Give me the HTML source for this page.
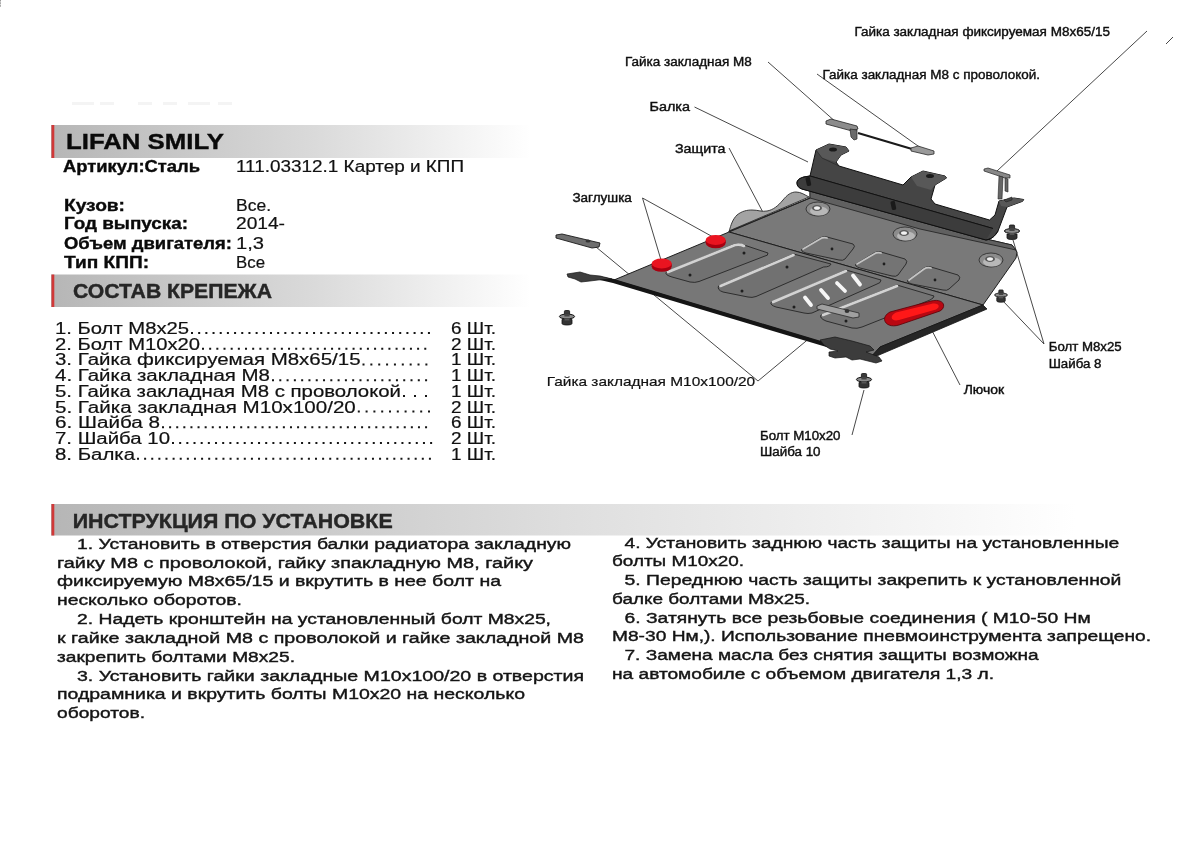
<!DOCTYPE html>
<html><head><meta charset="utf-8">
<style>
html,body{margin:0;padding:0;background:#fff;width:1200px;height:848px;overflow:hidden}
svg{display:block;will-change:transform}
text{font-family:"Liberation Sans",sans-serif;fill:#111}
.b{font-weight:bold;fill:#0a0a0a;stroke:#0a0a0a;stroke-width:0.35px}
.h{font-weight:bold;fill:#262626;stroke:#262626;stroke-width:0.4px}
.lst{fill:#111;stroke:#111;stroke-width:0.2px}
.lbv{fill:#111;stroke:#111;stroke-width:0.2px}
.ins{fill:#141414;stroke:#141414;stroke-width:0.4px}
.lbl{fill:#0e0e0e;stroke:#0e0e0e;stroke-width:0.4px}
</style></head>
<body>
<svg width="1200" height="848" viewBox="0 0 1200 848">
<defs>
<linearGradient id="g1" x1="0" x2="1" y1="0" y2="0">
<stop offset="0" stop-color="#b6b6b6"/>
<stop offset="0.55" stop-color="#dadada"/>
<stop offset="1" stop-color="#ffffff"/>
</linearGradient>
<linearGradient id="g3" x1="0" x2="1" y1="0" y2="0">
<stop offset="0" stop-color="#b6b6b6"/>
<stop offset="0.5" stop-color="#dedede"/>
<stop offset="1" stop-color="#ffffff"/>
</linearGradient>
</defs>
<rect width="1200" height="848" fill="#fff"/>
<rect x="0" y="0" width="1" height="1.5" fill="#999"/><rect x="0" y="2.2" width="1" height="1.8" fill="#aaa"/><rect x="0" y="4.6" width="1" height="2.2" fill="#aaa"/>
<g fill="#f4f4f4"><rect x="72" y="102" width="22" height="3"/><rect x="100" y="102" width="14" height="3"/><rect x="138" y="102" width="14" height="3"/><rect x="163" y="102" width="14" height="3"/><rect x="188" y="102" width="22" height="3"/><rect x="218" y="102" width="14" height="3"/></g>
<rect x="51" y="125" width="480" height="33" fill="url(#g1)"/>
<rect x="51.5" y="125" width="2.8" height="33" fill="#d03838"/>
<rect x="51" y="274.5" width="480" height="32.5" fill="url(#g1)"/>
<rect x="51.5" y="274.5" width="2.8" height="32.5" fill="#d03838"/>
<rect x="51" y="504" width="1025" height="31.5" fill="url(#g3)"/>
<rect x="51.5" y="504" width="2.8" height="31.5" fill="#d03838"/>
<text class="b" x="66" y="148.6" font-size="21.8" textLength="158" lengthAdjust="spacingAndGlyphs">LIFAN SMILY</text>
<text class="b" x="63" y="171.7" font-size="16" textLength="137" lengthAdjust="spacingAndGlyphs">Артикул:Сталь</text>
<text class="b" x="64" y="210.7" font-size="16" textLength="61" lengthAdjust="spacingAndGlyphs">Кузов:</text>
<text class="b" x="64" y="229.2" font-size="16" textLength="124" lengthAdjust="spacingAndGlyphs">Год выпуска:</text>
<text class="b" x="64" y="248.6" font-size="16" textLength="168" lengthAdjust="spacingAndGlyphs">Объем двигателя:</text>
<text class="b" x="64" y="268.1" font-size="16" textLength="85" lengthAdjust="spacingAndGlyphs">Тип КПП:</text>
<text class="lst" x="236" y="171.7" font-size="16" textLength="228" lengthAdjust="spacingAndGlyphs">111.03312.1 Картер и КПП</text>
<text class="lst" x="236" y="210.7" font-size="16" textLength="35" lengthAdjust="spacingAndGlyphs">Все.</text>
<text class="lst" x="236" y="229.2" font-size="16" textLength="49" lengthAdjust="spacingAndGlyphs">2014-</text>
<text class="lst" x="236" y="248.6" font-size="16" textLength="28" lengthAdjust="spacingAndGlyphs">1,3</text>
<text class="lst" x="236" y="268.1" font-size="16" textLength="29" lengthAdjust="spacingAndGlyphs">Все</text>
<text class="h" x="73" y="297.5" font-size="19.5" textLength="199" lengthAdjust="spacingAndGlyphs">СОСТАВ КРЕПЕЖА</text>
<text class="h" x="72.7" y="527.5" font-size="20" textLength="320" lengthAdjust="spacingAndGlyphs">ИНСТРУКЦИЯ ПО УСТАНОВКЕ</text>
<text class="lst" x="55" y="334.0" font-size="16" textLength="134" lengthAdjust="spacingAndGlyphs">1. Болт M8x25</text>
<line x1="191.0" y1="333.0" x2="430.5" y2="333.0" stroke="#151515" stroke-width="2" stroke-dasharray="2 5.18"/>
<text class="lst" x="451" y="334.0" font-size="16" textLength="45" lengthAdjust="spacingAndGlyphs">6 Шт.</text>
<text class="lst" x="55" y="349.72" font-size="16" textLength="145" lengthAdjust="spacingAndGlyphs">2. Болт M10x20</text>
<line x1="202.0" y1="348.7" x2="426.9" y2="348.7" stroke="#151515" stroke-width="2" stroke-dasharray="2 5.17"/>
<text class="lst" x="451" y="349.72" font-size="16" textLength="45" lengthAdjust="spacingAndGlyphs">2 Шт.</text>
<text class="lst" x="55" y="365.44" font-size="16" textLength="305.5" lengthAdjust="spacingAndGlyphs">3. Гайка фиксируемая M8x65/15</text>
<line x1="362.5" y1="364.4" x2="427.9" y2="364.4" stroke="#151515" stroke-width="2" stroke-dasharray="2 5.86"/>
<text class="lst" x="451" y="365.44" font-size="16" textLength="45" lengthAdjust="spacingAndGlyphs">1 Шт.</text>
<text class="lst" x="55" y="381.16" font-size="16" textLength="215" lengthAdjust="spacingAndGlyphs">4. Гайка закладная M8</text>
<line x1="272.0" y1="380.2" x2="427.5" y2="380.2" stroke="#151515" stroke-width="2" stroke-dasharray="2 5.29"/>
<text class="lst" x="451" y="381.16" font-size="16" textLength="45" lengthAdjust="spacingAndGlyphs">1 Шт.</text>
<text class="lst" x="55" y="396.88" font-size="16" textLength="346" lengthAdjust="spacingAndGlyphs">5. Гайка закладная M8 с проволокой</text>
<line x1="403.0" y1="395.9" x2="427.5" y2="395.9" stroke="#151515" stroke-width="2" stroke-dasharray="2 9.00"/>
<text class="lst" x="451" y="396.88" font-size="16" textLength="45" lengthAdjust="spacingAndGlyphs">1 Шт.</text>
<text class="lst" x="55" y="412.6" font-size="16" textLength="300.8" lengthAdjust="spacingAndGlyphs">5. Гайка закладная M10x100/20</text>
<line x1="357.8" y1="411.6" x2="430.5" y2="411.6" stroke="#151515" stroke-width="2" stroke-dasharray="2 5.80"/>
<text class="lst" x="451" y="412.6" font-size="16" textLength="45" lengthAdjust="spacingAndGlyphs">2 Шт.</text>
<text class="lst" x="55" y="428.32" font-size="16" textLength="105" lengthAdjust="spacingAndGlyphs">6. Шайба 8</text>
<line x1="162.0" y1="427.3" x2="427.5" y2="427.3" stroke="#151515" stroke-width="2" stroke-dasharray="2 5.11"/>
<text class="lst" x="451" y="428.32" font-size="16" textLength="45" lengthAdjust="spacingAndGlyphs">6 Шт.</text>
<text class="lst" x="55" y="444.04" font-size="16" textLength="115" lengthAdjust="spacingAndGlyphs">7. Шайба 10</text>
<line x1="172.0" y1="443.0" x2="432.5" y2="443.0" stroke="#151515" stroke-width="2" stroke-dasharray="2 5.17"/>
<text class="lst" x="451" y="444.04" font-size="16" textLength="45" lengthAdjust="spacingAndGlyphs">2 Шт.</text>
<text class="lst" x="55" y="459.76" font-size="16" textLength="80" lengthAdjust="spacingAndGlyphs">8. Балка</text>
<line x1="137.0" y1="458.8" x2="431.5" y2="458.8" stroke="#151515" stroke-width="2" stroke-dasharray="2 5.12"/>
<text class="lst" x="451" y="459.76" font-size="16" textLength="45" lengthAdjust="spacingAndGlyphs">1 Шт.</text>
<text class="ins" x="77" y="548.6" font-size="15.5" textLength="494" lengthAdjust="spacingAndGlyphs">1. Установить в отверстия балки радиатора закладную</text>
<text class="ins" x="57" y="567.5" font-size="15.5" textLength="476" lengthAdjust="spacingAndGlyphs">гайку M8 с проволокой, гайку зпакладную M8, гайку</text>
<text class="ins" x="57" y="586.4" font-size="15.5" textLength="444" lengthAdjust="spacingAndGlyphs">фиксируемую M8x65/15 и вкрутить в нее болт на</text>
<text class="ins" x="57" y="605.3" font-size="15.5" textLength="185" lengthAdjust="spacingAndGlyphs">несколько оборотов.</text>
<text class="ins" x="77" y="624.2" font-size="15.5" textLength="474" lengthAdjust="spacingAndGlyphs">2. Надеть кронштейн на установленный болт M8x25,</text>
<text class="ins" x="57" y="643.0" font-size="15.5" textLength="527" lengthAdjust="spacingAndGlyphs">к гайке закладной M8 с проволокой и гайке закладной M8</text>
<text class="ins" x="57" y="661.5" font-size="15.5" textLength="238" lengthAdjust="spacingAndGlyphs">закрепить болтами M8x25.</text>
<text class="ins" x="77" y="680.7" font-size="15.5" textLength="507" lengthAdjust="spacingAndGlyphs">3. Установить гайки закладные M10x100/20 в отверстия</text>
<text class="ins" x="57" y="699.3" font-size="15.5" textLength="468" lengthAdjust="spacingAndGlyphs">подрамника и вкрутить болты M10x20 на несколько</text>
<text class="ins" x="57" y="718.3" font-size="15.5" textLength="88" lengthAdjust="spacingAndGlyphs">оборотов.</text>
<text class="ins" x="624.5" y="548.0" font-size="15.5" textLength="494.8" lengthAdjust="spacingAndGlyphs">4. Установить заднюю часть защиты на установленные</text>
<text class="ins" x="612" y="566.4" font-size="15.5" textLength="132" lengthAdjust="spacingAndGlyphs">болты M10x20.</text>
<text class="ins" x="624.5" y="585.0" font-size="15.5" textLength="496.9" lengthAdjust="spacingAndGlyphs">5. Переднюю часть защиты закрепить к установленной</text>
<text class="ins" x="612" y="604.0" font-size="15.5" textLength="198" lengthAdjust="spacingAndGlyphs">балке болтами M8x25.</text>
<text class="ins" x="624.5" y="622.7" font-size="15.5" textLength="466.2" lengthAdjust="spacingAndGlyphs">6. Затянуть все резьбовые соединения ( M10-50 Нм</text>
<text class="ins" x="612" y="641.3" font-size="15.5" textLength="539" lengthAdjust="spacingAndGlyphs">M8-30 Нм,). Использование пневмоинструмента запрещено.</text>
<text class="ins" x="624.5" y="660.0" font-size="15.5" textLength="414.1" lengthAdjust="spacingAndGlyphs">7. Замена масла без снятия защиты возможна</text>
<text class="ins" x="612" y="678.7" font-size="15.5" textLength="382" lengthAdjust="spacingAndGlyphs">на автомобиле с объемом двигателя 1,3 л.</text>
<g id="diagram" stroke-linejoin="round">
<!-- leader lines -->
<g stroke="#333" stroke-width="0.9" fill="none">
<line x1="1147" y1="31" x2="997" y2="171"/>
<line x1="1166" y1="44" x2="1173" y2="37"/>
<line x1="768" y1="62" x2="837" y2="123"/>
<line x1="817" y1="74" x2="925" y2="151"/>
<line x1="694.5" y1="107" x2="808" y2="162"/>
<line x1="729" y1="148" x2="767" y2="220"/>
<line x1="642.5" y1="198" x2="661" y2="260"/>
<line x1="642.5" y1="198" x2="713" y2="237"/>
<line x1="596" y1="247" x2="758" y2="381"/>
<line x1="758" y1="381" x2="835" y2="317"/>
<line x1="960" y1="385" x2="925" y2="317"/>
<line x1="1044" y1="344" x2="1013" y2="240"/>
<line x1="1044" y1="344" x2="1002" y2="300"/>
<line x1="852" y1="435" x2="864" y2="390"/>
</g>
<!-- back wing (light gray) -->
<path d="M729,232 C731,224 733,219 737,215 C742,211 747,210 752,210 C758,210 762,212 767,211 C773,210 778,206 783,200 C787,195 791,192 796,192 C801,192 805,195 809,197 L729,231 Z" fill="#a3a3a3" stroke="#2a2a2a" stroke-width="0.9"/>
<!-- plate back section -->
<path d="M729,232 L810,198 L810,189 L986,239 L1012,245 L1017,252 L1016,258 L983,305 Z" fill="#797979" stroke="#1e1e1e" stroke-width="1"/>
<!-- raised back band under beam -->
<path d="M810,189 L986,239 L1012,245 L1016,250 L920,229 L810,198 Z" fill="#606060" stroke="#1e1e1e" stroke-width="0.8"/>
<line x1="729" y1="231.5" x2="810" y2="198" stroke="#222" stroke-width="1.1"/>
<!-- plate front section -->
<path d="M614,280 L729,232 L983,305 L880,347 L871,357 Z" fill="#777777" stroke="#1e1e1e" stroke-width="1"/>
<!-- front lips -->
<path d="M598,276 L614,279 L871,356 L870,360 L613,283 L600,280 Z" fill="#151515"/>
<path d="M880,347 L983,305 L987,309 L872,358 L871,357 Z" fill="#262626" stroke="#151515" stroke-width="0.8"/>
<!-- stamped rects front -->
<g stroke="#262626" stroke-width="0.9">
<path d="M666,272.5 L735,244 Q740,243 744,245 L768,253 Q768,256 765,256 L699,281.5 Q695,283 690,282 L672,277 Q665,275 666,272.5 Z" fill="#717171"/>
<path d="M718.5,286 L793.5,254 L831,264 Q830,267 823.5,267 L756,296.5 Q752,298 748,297 L723,292 Q717,290 718.5,286 Z" fill="#717171"/>
<path d="M771,302.5 L846,270 L881,280 Q881,283 877,284 L812,313 Q808,314 804,313 L776,307 Q770,305 771,302.5 Z" fill="#727272"/>
<path d="M821,315 L897,285 L934,296 Q934,298 930,300 L862,327 Q857,329 852,328 L826,321 Q819,318 821,315 Z" fill="#747474"/>
</g>
<g stroke="#d2d2d2" stroke-width="2.6" fill="none" stroke-linecap="round">
<path d="M668,272 L735,245 Q740,244 744,246"/>
<path d="M720.5,286 L793.5,255"/>
<path d="M773,302 L846,271"/>
<path d="M823,315 L897,286"/>
</g>
<!-- slots -->
<g stroke="#f6f6f6" stroke-width="3.8" stroke-linecap="round">
<line x1="805" y1="297.5" x2="811" y2="305"/>
<line x1="821" y1="290" x2="828" y2="298"/>
<line x1="837" y1="283" x2="845" y2="291"/>
<line x1="853" y1="275.5" x2="860" y2="284.5"/>
</g>
<!-- nut bracket on plate -->
<path d="M817,306 L822,304 L859,313 L859,317 L853,318 L817,309 Z" fill="#a0a0a0" stroke="#2a2a2a" stroke-width="0.8"/>
<ellipse cx="847" cy="311" rx="2.4" ry="2" fill="#333"/>
<!-- stamped rects back -->
<g stroke="#262626" stroke-width="0.9">
<path d="M802,249 L820,238 Q823,236 827,237 L853,244 Q856,246 853,249 L845,259 Q843,261 839,260 L806,253 Q800,251 802,249 Z" fill="#747474"/>
<path d="M856,264 L874,253 Q877,251 881,252 L905,259 Q908,261 906,264 L898,275 Q896,277 892,276 L860,268 Q854,266 856,264 Z" fill="#747474"/>
<path d="M908,280 L924,268 Q927,266 931,267 L958,275 Q961,277 959,280 L949,289 Q947,291 943,290 L912,284 Q906,282 908,280 Z" fill="#747474"/>
</g>
<g stroke="#c4c4c4" stroke-width="1.8" fill="none" stroke-linecap="round">
<path d="M803,249 L820,239 Q823,237 827,238"/>
<path d="M857,264 L874,254 Q877,252 881,253"/>
<path d="M909,280 L924,269 Q927,267 931,268"/>
</g>
<!-- holes -->
<g fill="#1e1e1e">
<circle cx="744" cy="253" r="1.5"/><circle cx="690" cy="275" r="1.5"/>
<circle cx="787" cy="267" r="1.5"/><circle cx="742" cy="291" r="1.5"/>
<circle cx="794" cy="307" r="1.5"/><circle cx="846" cy="321" r="1.5"/>
<circle cx="832" cy="249" r="1.4"/><circle cx="884" cy="264" r="1.4"/><circle cx="935" cy="280" r="1.4"/>
</g>
<!-- bosses -->
<g stroke="#262626" stroke-width="0.8">
<ellipse cx="818" cy="209" rx="12" ry="7" fill="#8c8c8c"/>
<ellipse cx="905" cy="234" rx="12" ry="7" fill="#8c8c8c"/>
<ellipse cx="991" cy="260" rx="12" ry="7" fill="#8c8c8c"/>
</g>
<g fill="#b8b8b8">
<ellipse cx="819" cy="211" rx="9" ry="4.5"/>
<ellipse cx="906" cy="236" rx="9" ry="4.5"/>
<ellipse cx="992" cy="262" rx="9" ry="4.5"/>
</g>
<g fill="#5a5a5a">
<ellipse cx="817" cy="208" rx="5" ry="3"/>
<ellipse cx="904" cy="233" rx="5" ry="3"/>
<ellipse cx="990" cy="259" rx="5" ry="3"/>
</g>
<g fill="#f2f2f2">
<ellipse cx="817" cy="208" rx="3" ry="1.8"/>
<ellipse cx="904" cy="233" rx="3" ry="1.8"/>
<ellipse cx="990" cy="259" rx="3" ry="1.8"/>
</g>
<!-- bottom bracket under front corner -->
<path d="M820,340 L835,337 L852,341 L870,346 L874,350 L866,352 L879,357 L882,361 L876,363 L860,359 L852,360 L846,357 L835,358 L829,356 L829,352 L838,351 L830,349 L824,345 Z" fill="#3c3c3c" stroke="#161616" stroke-width="0.7"/>
<!-- red plugs -->
<ellipse cx="661.7" cy="266.5" rx="10" ry="5.3" fill="#a80010"/>
<rect x="651.7" y="263.5" width="20" height="3" fill="#a80010"/>
<ellipse cx="661.7" cy="263.5" rx="10" ry="5" fill="#ea1420"/>
<ellipse cx="715.7" cy="243" rx="10" ry="5.3" fill="#a80010"/>
<rect x="705.7" y="240" width="20" height="3" fill="#a80010"/>
<ellipse cx="715.7" cy="240" rx="10" ry="5" fill="#ea1420"/>
<!-- red hatch -->
<path d="M890,312 L931,301 C944,298 947,307 940,311 L899,325 C886,329 879,318 890,312 Z" fill="#b80812" stroke="#5a0006" stroke-width="0.8"/>
<path d="M896,312.5 L931,304 C939,302 941,307 936,309.5 L899,320 C891,322 889,316 896,312.5 Z" fill="#ff1818"/>
<!-- beam -->
<path d="M797,183 C797,180 800,178 804,177 L810,176 L816,150 L829,144 L846,147 L849,151 L841,155 L836,162 L839,166 L903,185 L911,177 L923,171 L945,176 L946.5,178 L935,185 L931,199 L935,204 L989.5,220 L995,215 L999,201 L1014,198 L1023.7,199.5 L1022.6,201.3 L1007,207 L998,231 C995,236 992,239 986,240 L802,189 C799,188 797,186 797,183 Z" fill="#454545" stroke="#101010" stroke-width="1"/>
<path d="M816,150 L829,144 L846,147 L849,151 L841,155 L836,162 L822,158 Z" fill="#585858"/>
<path d="M911,177 L923,171 L945,176 L946.5,178 L935,185 L931,190 L917,186 Z" fill="#585858"/>
<path d="M999,201 L1014,198 L1023.7,199.5 L1022.6,201.3 L1007,207 L1001,206 Z" fill="#585858"/>
<path d="M810,176 L993,228.5" stroke="#101010" stroke-width="0.9" fill="none"/>
<path d="M804,178 L810,176 L993,228.5 L986,240 L802,189 C799,188 797,186 797,183 C797,180 800,178 804,178 Z" fill="#3c3c3c"/>
<path d="M810,176 L993,228.5" stroke="#101010" stroke-width="0.9" fill="none"/>
<path d="M797,183 C797,180 800,178 804,177 L810,176 M998,231 C995,236 992,239 986,240 L802,189 C799,188 797,186 797,183" stroke="#101010" stroke-width="1" fill="none"/>
<path d="M816,150 L822,158 L839,166" stroke="#222" stroke-width="0.6" fill="none"/>
<ellipse cx="833" cy="149.5" rx="4" ry="2" fill="#1a1a1a"/>
<ellipse cx="1030" cy="175" rx="0" ry="0" fill="none"/>
<ellipse cx="930" cy="176" rx="4" ry="2" fill="#1a1a1a"/>
<rect x="806" y="177" width="4.5" height="9" rx="1.5" fill="#1a1a1a" transform="rotate(-12 808 181)"/>
<rect x="891" y="201" width="4.5" height="9" rx="1.5" fill="#1a1a1a" transform="rotate(-12 893 205)"/>
<!-- nut clip M8 -->
<path d="M826,121 L831,119 L857,126 L858,129 L852,131 L826,124 Z" fill="#8c8c8c" stroke="#222" stroke-width="0.8"/>
<path d="M850,129 L857,130 L857,139 L854,140 L851,137 Z" fill="#6a6a6a" stroke="#222" stroke-width="0.7"/>
<!-- wire nut -->
<line x1="858" y1="133" x2="912" y2="149" stroke="#1a1a1a" stroke-width="2"/>
<path d="M911,148 L918,146 L934,151 L934,154 L928,155 L911,151 Z" fill="#9a9a9a" stroke="#2a2a2a" stroke-width="0.8"/>
<!-- fixed nut M8x65/15 -->
<path d="M984,169 L988,168 L1010,175 L1010,178 L1005,178 L984,171 Z" fill="#888" stroke="#222" stroke-width="0.7"/>
<path d="M999,176 L1003,177 L1002,199 L998,199 Z" fill="#666" stroke="#222" stroke-width="0.6"/>
<path d="M1005,178 L1008,179 L1008,192 L1005,191 Z" fill="#666" stroke="#222" stroke-width="0.6"/>
<path d="M1004,200 L1012,197 L1012,200 L1006,202 Z" fill="#444" stroke="#222" stroke-width="0.6"/>
<!-- left brackets -->
<path d="M556,235 L562,234 L600,243 L599,247 L592,248 L556,238 Z" fill="#6e6e6e" stroke="#1a1a1a" stroke-width="0.9"/>
<ellipse cx="588" cy="241" rx="2.5" ry="1.6" fill="#333"/>
<path d="M567,274 L580,272 L590,275 L600,276 L612,279 L598,280 L590,281 L581,282 L575,279 L568,277 Z" fill="#3e3e3e" stroke="#161616" stroke-width="0.7"/>
<!-- bolts -->
<g transform="translate(567,316.5) scale(1.0)"><rect x="-2.6" y="-6" width="5.2" height="5.5" rx="1" fill="#3a3a3a" stroke="#111" stroke-width="0.8"/><ellipse cx="0" cy="0" rx="7.6" ry="2.4" fill="#8a8a8a" stroke="#111" stroke-width="1"/><rect x="-2.6" y="-3" width="5.2" height="3" fill="#444"/><path d="M-5,3 L5,3 L5,7 C5,9 -5,9 -5,7 Z" fill="#333" stroke="#111" stroke-width="0.8"/><rect x="-2.5" y="2" width="5" height="2" fill="#555"/></g>
<g transform="translate(1012,231) scale(1.0)"><rect x="-2.6" y="-6" width="5.2" height="5.5" rx="1" fill="#3a3a3a" stroke="#111" stroke-width="0.8"/><ellipse cx="0" cy="0" rx="7.6" ry="2.4" fill="#8a8a8a" stroke="#111" stroke-width="1"/><rect x="-2.6" y="-3" width="5.2" height="3" fill="#444"/><path d="M-5,3 L5,3 L5,7 C5,9 -5,9 -5,7 Z" fill="#333" stroke="#111" stroke-width="0.8"/><rect x="-2.5" y="2" width="5" height="2" fill="#555"/></g>
<g transform="translate(1001,295) scale(0.85)"><rect x="-2.6" y="-6" width="5.2" height="5.5" rx="1" fill="#3a3a3a" stroke="#111" stroke-width="0.8"/><ellipse cx="0" cy="0" rx="7.6" ry="2.4" fill="#8a8a8a" stroke="#111" stroke-width="1"/><rect x="-2.6" y="-3" width="5.2" height="3" fill="#444"/><path d="M-5,3 L5,3 L5,7 C5,9 -5,9 -5,7 Z" fill="#333" stroke="#111" stroke-width="0.8"/><rect x="-2.5" y="2" width="5" height="2" fill="#555"/></g>
<g transform="translate(864,379.5) scale(1.0)"><rect x="-2.6" y="-6" width="5.2" height="5.5" rx="1" fill="#3a3a3a" stroke="#111" stroke-width="0.8"/><ellipse cx="0" cy="0" rx="7.6" ry="2.4" fill="#8a8a8a" stroke="#111" stroke-width="1"/><rect x="-2.6" y="-3" width="5.2" height="3" fill="#444"/><path d="M-5,3 L5,3 L5,7 C5,9 -5,9 -5,7 Z" fill="#333" stroke="#111" stroke-width="0.8"/><rect x="-2.5" y="2" width="5" height="2" fill="#555"/></g>
</g>
<text class="lbl" x="854.4" y="36.4" font-size="12.5" textLength="255.5" lengthAdjust="spacingAndGlyphs">Гайка закладная фиксируемая M8x65/15</text>
<text class="lbl" x="625" y="66.3" font-size="12.5" textLength="126.8" lengthAdjust="spacingAndGlyphs">Гайка закладная M8</text>
<text class="lbl" x="822.5" y="78.6" font-size="12.5" textLength="217.5" lengthAdjust="spacingAndGlyphs">Гайка закладная M8 с проволокой.</text>
<text class="lbl" x="649.5" y="111.3" font-size="12.5" textLength="40.5" lengthAdjust="spacingAndGlyphs">Балка</text>
<text class="lbl" x="675" y="152.5" font-size="12.5" textLength="50.5" lengthAdjust="spacingAndGlyphs">Защита</text>
<text class="lbl" x="572.4" y="201.7" font-size="12.5" textLength="59.5" lengthAdjust="spacingAndGlyphs">Заглушка</text>
<text class="lbv" x="546.7" y="385.9" font-size="13.5" textLength="208.5" lengthAdjust="spacingAndGlyphs">Гайка закладная M10x100/20</text>
<text class="lbl" x="963.7" y="393.7" font-size="12.5" textLength="40.5" lengthAdjust="spacingAndGlyphs">Лючок</text>
<text class="lbl" x="1048.7" y="351.2" font-size="12.5" textLength="73.0" lengthAdjust="spacingAndGlyphs">Болт M8x25</text>
<text class="lbl" x="1048.7" y="367.5" font-size="12.5" textLength="52.8" lengthAdjust="spacingAndGlyphs">Шайба 8</text>
<text class="lbl" x="760" y="440" font-size="12.5" textLength="80.5" lengthAdjust="spacingAndGlyphs">Болт M10x20</text>
<text class="lbl" x="760" y="456" font-size="12.5" textLength="60.5" lengthAdjust="spacingAndGlyphs">Шайба 10</text>
</svg>
</body></html>
